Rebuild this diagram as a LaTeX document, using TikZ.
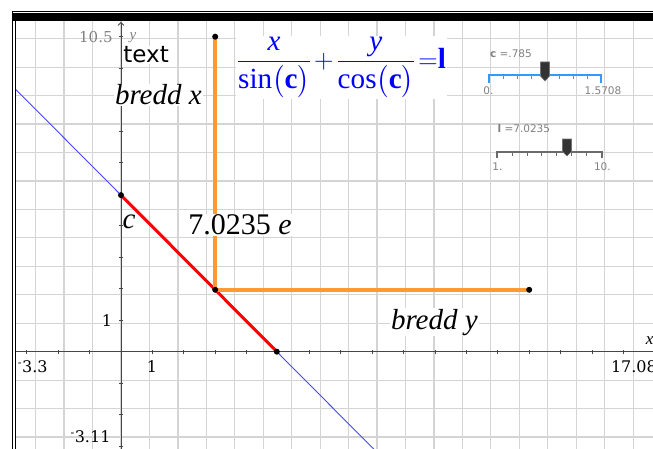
\documentclass[tikz,border=0pt]{standalone}
\usepackage{amsmath}
\usepackage{fontspec}
\setmainfont{Liberation Serif}
\newfontfamily\tisans{DejaVu Sans}
\newfontfamily\tiserif{DejaVu Serif}
\usepackage{xcolor}
\usepackage{tikz}
\usetikzlibrary{arrows.meta,calc,positioning}

\definecolor{gridgray}{RGB}{212,212,212}
\definecolor{axisgray}{RGB}{70,70,70}
\definecolor{lineblue}{RGB}{70,70,255}
\definecolor{eqblue}{RGB}{0,0,255}
\definecolor{tiorange}{RGB}{255,153,51}
\definecolor{sliderblue}{RGB}{51,153,255}
\definecolor{labelgray}{RGB}{128,128,128}

\tikzset{
  lbl/.style={fill=white,inner sep=1pt},
  knob/.style={fill=black!80,draw=black!55,line width=0.6pt},
  smalllbl/.style={text=labelgray,font=\tisans\fontsize{10.5}{12}\selectfont,inner sep=0pt},
  ticklbl/.style={font=\tiserif\fontsize{16}{18}\selectfont,inner sep=0pt}
}

\begin{document}
\begin{tikzpicture}[x=31.4pt,y=31.5pt,>=Stealth]
\useasboundingbox (-3.8535,-3.0889) rectangle (16.943,11.165);
% grid and line of the window
\begin{scope}
\clip (-3.354,-3.2) rectangle (17.5,10.5);
\draw[gridgray,line width=1.2pt] (-4,-4) grid (17,11);
\draw[axisgray,line width=0.8pt] (-3.354,0) -- (17.08,0);
\foreach \i in {-3,...,16} \draw[axisgray,line width=0.6pt] (\i,-0.06) -- (\i,0.06);
\foreach \j in {-3,...,10} \draw[axisgray,line width=0.6pt] (-0.06,\j) -- (0.06,\j);
\coordinate (A) at (0,4.97);
\coordinate (B) at (4.9625,0);
\coordinate (P) at (3,1.965);
\coordinate (Q) at (3,10);
\coordinate (R) at (13,1.965);
\draw[lineblue,line width=0.9pt] ($(A)!-0.68!(B)$) -- ($(B)!-0.66!(A)$);
\end{scope}
\draw[axisgray,line width=0.8pt,-{Straight Barb[length=3pt,width=6pt]}] (0,-3.2) -- (0,10.47);
% frame
\fill[black] (-3.462,10.498) rectangle (17.5,10.743);
\draw[line width=0.9pt] (-3.462,-3.2) -- (-3.462,10.80) -- (17.5,10.80);
\draw[line width=0.8pt] (-3.354,-3.2) -- (-3.354,10.5);
% axis labels
\node[text=labelgray,font=\tiserif\fontsize{15}{16}\selectfont,inner sep=0pt] (ymax) at (-0.8,9.99) {10.5};
\node[text=labelgray,font=\itshape\fontsize{15}{16}\selectfont,inner sep=0pt] (ylab) at (0.38,9.97) {y};
\node[font=\itshape\fontsize{17}{18}\selectfont,inner sep=0pt] (xlab) at (16.84,0.34) {x};
\node[ticklbl,anchor=west] (xmin) at (-3.29,-0.49) {\textsuperscript{-}3.3};
\node[ticklbl,anchor=west] (xmax) at (15.6,-0.49) {17.08};
\node[ticklbl] (xone) at (0.99,-0.47) {1};
\node[ticklbl] (yone) at (-0.45,1.0) {1};
\node[ticklbl,anchor=east] (ymin) at (-0.33,-2.71) {\textsuperscript{-}3.11};
% segment and legs
\draw[red,line width=3pt] (A) -- (B);
\draw[tiorange,line width=4.5pt] (Q) -- (P) -- (R);
\foreach \p in {A,B,P,Q,R} \fill (\p) circle (3pt);
% texts
\node[lbl,font=\tisans\fontsize{23}{26}\selectfont,anchor=west] (txt) at (0.04,9.42) {text};
\node[lbl,font=\itshape\fontsize{29}{30}\selectfont] (bx) at (1.19,8.15) {bredd x};
\node[font=\itshape\fontsize{29}{30}\selectfont,inner sep=0pt] (clab) at (0.26,4.12) {c};
\node[lbl,font=\fontsize{30}{32}\selectfont] (val) at (3.79,4.02) {7.0235 \textit{e}};
\node[lbl,font=\itshape\fontsize{29}{30}\selectfont] (by) at (9.98,0.94) {bredd y};
\node[lbl,text=eqblue,font=\fontsize{27}{30}\selectfont] (eq) at (7.02,9.03)
  {\scalebox{1.08}{$\dfrac{\textit{x}}{\text{sin}\bigl(\textbf{c}\bigr)}\mkern2mu{+}\mkern2mu\dfrac{\textit{y}}{\text{cos}\bigl(\textbf{c}\bigr)}\mkern2mu{=}\textbf{l}$}};
% slider c
\coordinate (c0) at (11.72,8.784);
\coordinate (c1) at (15.287,8.784);
\draw[sliderblue,line width=1.2pt] ($(c0)+(0,-0.24)$) -- (c0) -- (c1) -- ($(c1)+(0,-0.24)$);
\foreach \k in {1,...,7} \draw[sliderblue,line width=1pt] ($(c0)!\k/8!(c1)$) -- ++(0,-0.13);
\draw[knob] (13.36,9.197) -- (13.647,9.197) -- (13.647,8.75) -- (13.503,8.594) -- (13.36,8.75) -- cycle;
\node[smalllbl] (cval) at (12.42,9.47) {\textbf{c} =.785};
\node[smalllbl] (cmin) at (11.70,8.29) {0.};
\node[smalllbl] (cmax) at (15.35,8.29) {1.5708};
% slider l
\coordinate (l0) at (11.975,6.34);
\coordinate (l1) at (15.318,6.34);
\draw[axisgray!80,line width=1.2pt] ($(l0)+(0,-0.19)$) -- (l0) -- (l1) -- ($(l1)+(0,-0.19)$);
\foreach \k in {1,...,6} \draw[axisgray!80,line width=1pt] ($(l0)!\k/7!(l1)$) -- ++(0,-0.13);
\draw[knob] (14.06,6.752) -- (14.35,6.752) -- (14.35,6.36) -- (14.204,6.213) -- (14.06,6.36) -- cycle;
\node[smalllbl] (lval) at (12.83,7.09) {\textbf{l} =7.0235};
\node[smalllbl] (lmin) at (11.99,5.87) {1.};
\node[smalllbl] (lmax) at (15.33,5.87) {10.};
\end{tikzpicture}
\end{document}
